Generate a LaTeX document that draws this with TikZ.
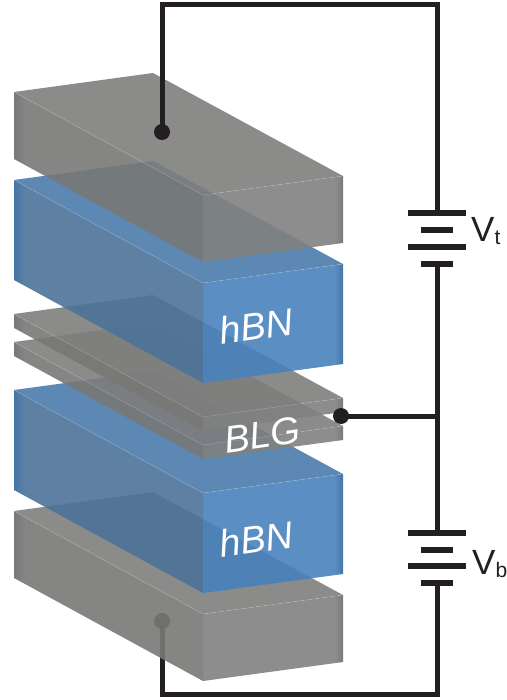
\documentclass[tikz,border=0pt]{standalone}
\usepackage{fontspec}
\setmainfont{Liberation Sans}

\definecolor{wirecol}{HTML}{231F20}
\definecolor{graytop}{HTML}{7E7E7D}
\definecolor{grayside}{HTML}{787977}
\definecolor{grayfront}{HTML}{808180}
\definecolor{grayedge}{HTML}{6A6B69}
\definecolor{bluetop}{HTML}{4A7BAB}
\definecolor{blueside}{HTML}{4D7399}
\definecolor{bluefront}{HTML}{4982BC}
\definecolor{blueedge}{HTML}{30659C}

\pgfdeclarehorizontalshading{grayleft}{100bp}{color(0bp)=(grayedge); color(25bp)=(grayedge); color(28bp)=(grayside); color(100bp)=(grayside)}
\pgfdeclarehorizontalshading{grayright}{100bp}{color(0bp)=(grayfront); color(72bp)=(grayfront); color(75bp)=(grayedge); color(100bp)=(grayedge)}
\pgfdeclarehorizontalshading{blueleft}{100bp}{color(0bp)=(blueedge); color(25bp)=(blueedge); color(28bp)=(blueside); color(100bp)=(blueside)}
\pgfdeclarehorizontalshading{blueright}{100bp}{color(0bp)=(bluefront); color(72bp)=(bluefront); color(75bp)=(blueedge); color(100bp)=(blueedge)}

\tikzset{
    wire/.style={draw=wirecol, line width=5pt},
    plate/.style={fill=wirecol, inner sep=0pt, minimum height=5.5pt},
    longplate/.style={plate, minimum width=58pt},
    shortplate/.style={plate, minimum width=32pt},
    contact/.style={circle, fill=wirecol, inner sep=0pt, minimum size=16pt},
    facelabel/.style={text=white, rotate=8, font=\fontsize{38}{38}\selectfont\itshape},
    voltage/.style={text=wirecol, anchor=west, inner sep=0pt, font=\fontsize{35}{35}\selectfont},
    edge/.style={draw=white, draw opacity=0.25, line width=0.4pt}
}

% #1 = y of left corner, #2 = height, #3 = colour prefix
\newcommand{\slab}[3]{
    \shade [shading=#3left, fill opacity=0.9] (14,#1) -- ({203},{#1+103}) -- ({203},{#1+103+#2}) -- ({14},{#1+#2}) -- cycle;
    \shade [shading=#3right, fill opacity=0.9] ({203},{#1+103}) -- ({343},{#1+84}) -- ({343},{#1+84+#2}) -- ({203},{#1+103+#2}) -- cycle;
    \fill [#3top, fill opacity=0.9] (14,#1) -- ({153},{#1-19}) -- ({343},{#1+84}) -- ({203},{#1+103}) -- cycle;
    \draw [edge] (14,#1) -- ({203},{#1+103}) -- ({343},{#1+84});
}

\begin{document}
\begin{tikzpicture}[x=1pt, y=-1pt]

\useasboundingbox (0,0) rectangle (506,700);

\coordinate (topcorner) at (437,5);
\coordinate (botcorner) at (437,694);
\coordinate (junction) at (437,416);

\node (botdot) [contact] at (162,621) {};

\node (vbA) [longplate] at (437,533) {};
\node (vbB) [shortplate] at (437,550) {};
\node (vbC) [longplate] at (437,566) {};
\node (vbD) [shortplate] at (437,583) {};

\draw [wire] (botdot.center) |- (botcorner) -- (vbD.center);

% stack, lowest first
\slab{511}{67}{gray}
\slab{390}{100}{blue}
\slab{342}{14}{gray}
\slab{314}{14}{gray}
\slab{180}{100}{blue}
\slab{92}{67}{gray}

\node (hbnupper) [facelabel] at (256,326) {hBN};
\node (blglabel) [facelabel] at (262,435) {BLG};
\node (hbnlower) [facelabel] at (256,539) {hBN};

\node (topdot) [contact] at (162,132) {};
\node (blgdot) [contact] at (341,416) {};

\node (vtA) [longplate] at (437,213) {};
\node (vtB) [shortplate] at (437,230) {};
\node (vtC) [longplate] at (437,247) {};
\node (vtD) [shortplate] at (437,264) {};

\draw [wire] (topdot.center) |- (topcorner) -- (vtA.center);
\draw [wire] (vtD.center) -- (junction) -- (vbA.center);
\draw [wire] (blgdot.center) -- (junction);

\node (vtlabel) [voltage] at (471,231) {V\raisebox{-3pt}{\fontsize{21}{21}\selectfont t}};
\node (vblabel) [voltage] at (472,564) {V\raisebox{-3pt}{\fontsize{21}{21}\selectfont b}};

\end{tikzpicture}
\end{document}
